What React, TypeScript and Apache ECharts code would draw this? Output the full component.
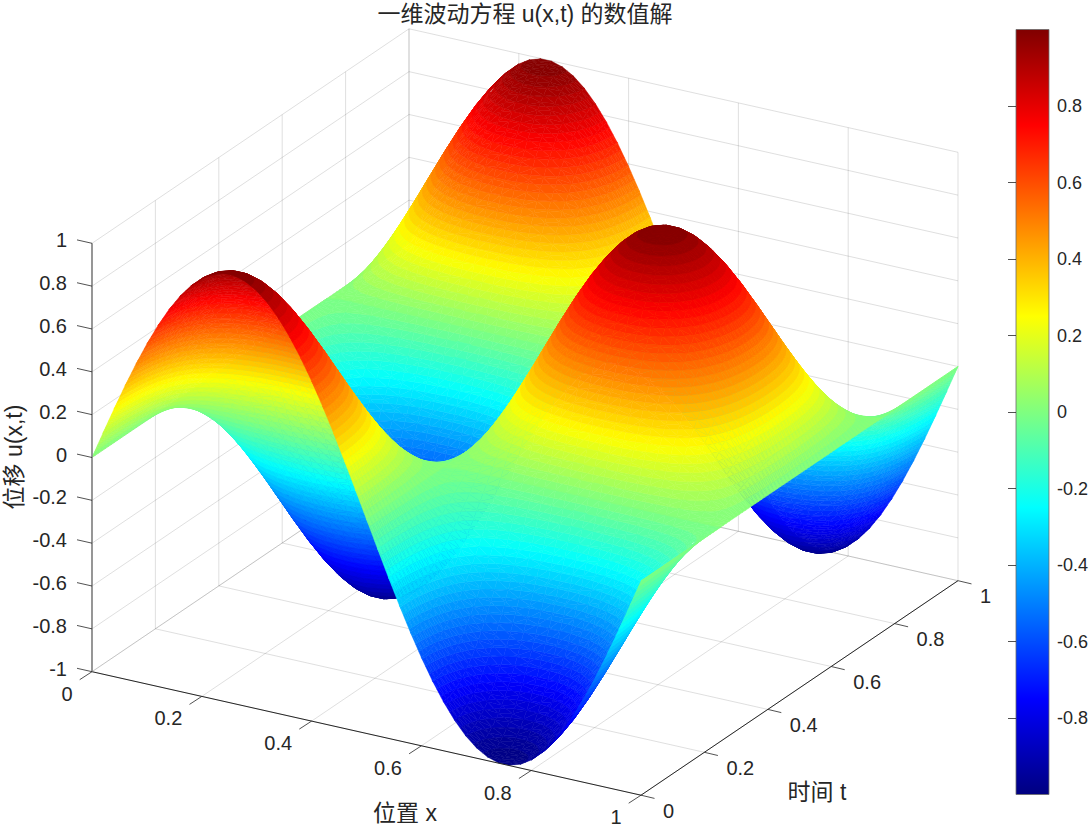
import React, { useEffect, useRef } from "react";
import * as echarts from "echarts";

// Values. The surface table is built from these two lists:
// spatial profile along x (t = 0 edge) and amplitude along t (x = 0.25 ridge).
const xProfile = [
  0, 0.1253, 0.2487, 0.3681, 0.4818, 0.5878, 0.6845, 0.7705, 0.8443, 0.9048, 0.9511, 0.9823, 0.998,
  0.998, 0.9823, 0.9511, 0.9048, 0.8443, 0.7705, 0.6845, 0.5878, 0.4818, 0.3681, 0.2487, 0.1253, 0,
  -0.1253, -0.2487, -0.3681, -0.4818, -0.5878, -0.6845, -0.7705, -0.8443, -0.9048, -0.9511, -0.9823, -0.998,
  -0.998, -0.9823, -0.9511, -0.9048, -0.8443, -0.7705, -0.6845, -0.5878, -0.4818, -0.3681, -0.2487, -0.1253, 0,
];
const tAmplitude = [
  1, 0.998, 0.9921, 0.9823, 0.9686, 0.9511, 0.9298, 0.9048, 0.8763, 0.8443, 0.809, 0.7705, 0.729, 0.6845,
  0.6374, 0.5878, 0.5358, 0.4818, 0.4258, 0.3681, 0.309, 0.2487, 0.1874, 0.1253, 0.0628, 0,
  -0.0628, -0.1253, -0.1874, -0.2487, -0.309, -0.3681, -0.4258, -0.4818, -0.5358, -0.5878, -0.6374, -0.6845,
  -0.729, -0.7705, -0.809, -0.8443, -0.8763, -0.9048, -0.9298, -0.9511, -0.9686, -0.9823, -0.9921, -0.998,
  -1,
  -0.998, -0.9921, -0.9823, -0.9686, -0.9511, -0.9298, -0.9048, -0.8763, -0.8443, -0.809, -0.7705, -0.729, -0.6845,
  -0.6374, -0.5878, -0.5358, -0.4818, -0.4258, -0.3681, -0.309, -0.2487, -0.1874, -0.1253, -0.0628, 0,
  0.0628, 0.1253, 0.1874, 0.2487, 0.309, 0.3681, 0.4258, 0.4818, 0.5358, 0.5878, 0.6374, 0.6845,
  0.729, 0.7705, 0.809, 0.8443, 0.8763, 0.9048, 0.9298, 0.9511, 0.9686, 0.9823, 0.9921, 0.998, 1,
];
const xTicks = [0, 0.2, 0.4, 0.6, 0.8, 1];
const tTicks = [0, 0.2, 0.4, 0.6, 0.8, 1];
const zTicks = [-1, -0.8, -0.6, -0.4, -0.2, 0, 0.2, 0.4, 0.6, 0.8, 1];

const FONT = "'Liberation Sans','Noto Sans CJK SC',sans-serif";
const INK = "#262626";
const GRID = "rgba(38,38,38,0.15)";
const LEVELS = 64;

// Orthographic view fitted to the box corners of the reference.
const project = (x: number, t: number, z: number): [number, number] => [
  92 + 549 * x + 317 * t,
  671.7 + 123.5 * x - 214.5 * t - (z + 1) * 214.2,
];

const clamp = (v: number) => Math.max(0, Math.min(1, v));
const jet = (k: number) => {
  const v = (k + 0.5) / LEVELS;
  const c = (a: number, b: number) => Math.round(255 * clamp(Math.min(4 * v - a, -4 * v + b)));
  return `rgb(${c(1.5, 4.5)},${c(0.5, 3.5)},${c(-0.5, 2.5)})`;
};
const levelColors = Array.from({ length: LEVELS }, (_, k) => jet(k));

const xAt = (i: number) => i / (xProfile.length - 1);
const tAt = (j: number) => j / (tAmplitude.length - 1);
const uAt = (i: number, j: number) => xProfile[i] * tAmplitude[j];

// Each mesh triangle is cut at the colormap level boundaries, as interpolated shading would do.
type V = [number, number, number];
const clipAbove = (poly: V[], limit: number, keepAbove: boolean): V[] => {
  const out: V[] = [];
  const inside = (v: V) => (keepAbove ? v[2] >= limit : v[2] <= limit);
  for (let n = 0; n < poly.length; n++) {
    const a = poly[n];
    const b = poly[(n + 1) % poly.length];
    const ia = inside(a);
    const ib = inside(b);
    if (ia) out.push(a);
    if (ia !== ib) {
      const f = (limit - a[2]) / (b[2] - a[2]);
      out.push([a[0] + f * (b[0] - a[0]), a[1] + f * (b[1] - a[1]), limit]);
    }
  }
  return out;
};
type Patch = { points: [number, number][]; color: string };
const patches: Patch[] = [];
const addTriangle = (tri: V[]) => {
  const us = tri.map((v) => v[2]);
  const levelOf = (u: number) => Math.max(0, Math.min(LEVELS - 1, Math.floor(((u + 1) / 2) * LEVELS)));
  const lo = levelOf(Math.min(...us));
  const hi = levelOf(Math.max(...us));
  for (let k = lo; k <= hi; k++) {
    let poly = tri;
    if (k > lo) poly = clipAbove(poly, -1 + (2 * k) / LEVELS, true);
    if (k < hi) poly = clipAbove(poly, -1 + (2 * (k + 1)) / LEVELS, false);
    if (poly.length >= 3) {
      patches.push({ points: poly.map((v) => project(v[0], v[1], v[2])), color: levelColors[k] });
    }
  }
};
// far faces first: t from 1 down to 0, x from 0 up to 1
for (let j = tAmplitude.length - 2; j >= 0; j--) {
  for (let i = 0; i < xProfile.length - 1; i++) {
    const p = (a: number, b: number): V => [xAt(a), tAt(b), uAt(a, b)];
    addTriangle([p(i, j + 1), p(i + 1, j + 1), p(i, j)]);
    addTriangle([p(i + 1, j + 1), p(i + 1, j), p(i, j)]);
  }
}

type Seg = { a: [number, number, number]; b: [number, number, number] };
const gridSegs: Seg[] = [];
for (const z of zTicks) {
  gridSegs.push({ a: [0, 0, z], b: [0, 1, z] });
  gridSegs.push({ a: [0, 1, z], b: [1, 1, z] });
}
for (const x of xTicks) {
  gridSegs.push({ a: [x, 1, -1], b: [x, 1, 1] });
  gridSegs.push({ a: [x, 0, -1], b: [x, 1, -1] });
}
for (const t of tTicks) {
  gridSegs.push({ a: [0, t, -1], b: [0, t, 1] });
  gridSegs.push({ a: [0, t, -1], b: [1, t, -1] });
}

type Label = { text: string; x: number; y: number; align: string; size: number; rot?: number };
const labels: Label[] = [];
zTicks.forEach((z) => {
  const p = project(0, 0, z);
  labels.push({ text: String(z), x: p[0] - 25, y: p[1] - 3, align: "right", size: 20 });
});
xTicks.forEach((x) => {
  const p = project(x, 0, -1);
  labels.push({ text: String(x), x: p[0] - 19.5, y: p[1] + 22, align: "right", size: 20 });
});
tTicks.forEach((t) => {
  const p = project(1, t, -1);
  labels.push({ text: String(t), x: p[0] + 22, y: p[1] + 15.5, align: "left", size: 20 });
});
labels.push({ text: "位置 x", x: 405, y: 813, align: "center", size: 23 });
labels.push({ text: "时间 t", x: 817, y: 792, align: "center", size: 23 });
labels.push({ text: "位移 u(x,t)", x: 14, y: 457, align: "center", size: 23, rot: Math.PI / 2 });

const lineEl = (p: number[], q: number[], stroke: string, lineWidth: number) => ({
  type: "line",
  shape: { x1: p[0], y1: p[1], x2: q[0], y2: q[1] },
  style: { stroke, lineWidth, fill: "none" },
});

export default function App() {
  const ref = useRef<HTMLDivElement>(null);
  useEffect(() => {
    document.body.style.margin = "0";
    document.body.style.background = "#fff";
    const chart = echarts.init(ref.current!, undefined, { renderer: "svg" });
    const jetGradient = new echarts.graphic.LinearGradient(0, 1, 0, 0, [
      { offset: 0, color: "#000080" },
      { offset: 0.125, color: "#0000ff" },
      { offset: 0.375, color: "#00ffff" },
      { offset: 0.625, color: "#ffff00" },
      { offset: 0.875, color: "#ff0000" },
      { offset: 1, color: "#800000" },
    ]);
    chart.setOption({
      animation: false,
      backgroundColor: "#fff",
      title: {
        text: "一维波动方程 u(x,t) 的数值解",
        left: 520,
        top: -3,
        padding: 5,
        textAlign: "center",
        textStyle: { fontFamily: FONT, fontSize: 23, fontWeight: "normal", color: INK },
      },
      grid: { left: 1016, top: 29.5, width: 33, height: 765 },
      xAxis: { type: "value", min: 0, max: 1, show: false },
      yAxis: {
        type: "value",
        position: "right",
        min: -1,
        max: 1,
        interval: 0.2,
        z: 5,
        splitLine: { show: false },
        axisLine: { show: false },
        axisTick: { show: true, inside: true, length: 8, lineStyle: { color: INK, width: 0.8 } },
        axisLabel: {
          show: true,
          showMinLabel: false,
          showMaxLabel: false,
          margin: 8,
          fontFamily: FONT,
          fontSize: 18,
          color: INK,
        },
      },
      series: [
        {
          type: "custom",
          coordinateSystem: "none",
          silent: true,
          z: 1,
          data: gridSegs.map((_, k) => k),
          renderItem: (_: any, api: any) => {
            const s = gridSegs[api.value(0)];
            return lineEl(project(...s.a), project(...s.b), GRID, 1);
          },
        },
        {
          type: "custom",
          coordinateSystem: "none",
          silent: true,
          progressive: 0,
          z: 2,
          data: patches.map((_, k) => k),
          renderItem: (_: any, api: any) => {
            const p = patches[api.value(0)];
            return {
              type: "polygon",
              shape: { points: p.points },
              style: { fill: p.color, stroke: p.color, lineWidth: 0.5 },
            };
          },
        },
        {
          type: "custom",
          coordinateSystem: "none",
          silent: true,
          z: 3,
          data: [0],
          renderItem: () => {
            const children: any[] = [];
            children.push(lineEl(project(0, 0, -1), project(1, 0, -1), INK, 1));
            children.push(lineEl(project(1, 0, -1), project(1, 1, -1), INK, 1));
            children.push(lineEl(project(0, 0, -1), project(0, 0, 1), "#808080", 1.6));
            zTicks.forEach((z) => {
              const p = project(0, 0, z);
              children.push(lineEl(p, [p[0] - 15, p[1] - 3.4], INK, 0.8));
            });
            xTicks.forEach((x) => {
              const p = project(x, 0, -1);
              children.push(lineEl(p, [p[0] - 12.3, p[1] + 8], INK, 0.8));
            });
            tTicks.forEach((t) => {
              const p = project(1, t, -1);
              children.push(lineEl(p, [p[0] + 13.5, p[1] + 3.2], INK, 0.8));
            });
            labels.forEach((l) => {
              children.push({
                type: "text",
                x: l.x,
                y: l.y,
                rotation: l.rot || 0,
                style: {
                  text: l.text,
                  fill: INK,
                  fontSize: l.size,
                  fontFamily: FONT,
                  align: l.align,
                  textAlign: l.align,
                  verticalAlign: "middle",
                  textVerticalAlign: "middle",
                },
              });
            });
            return { type: "group", children };
          },
        },
        {
          type: "custom",
          coordinateSystem: "cartesian2d",
          silent: true,
          z: 2,
          data: [[0, 0]],
          encode: { x: 0, y: 1 },
          clip: false,
          renderItem: (_: any, api: any) => {
            const a = api.coord([0, 1]);
            const b = api.coord([1, -1]);
            return {
              type: "rect",
              shape: { x: a[0], y: a[1], width: b[0] - a[0], height: b[1] - a[1] },
              style: { fill: jetGradient, stroke: "#6a6a6a", lineWidth: 0.8 },
            };
          },
        },
      ],
    });
    return () => chart.dispose();
  }, []);
  return <div ref={ref} style={{ position: "absolute", left: 0, top: 0, width: 1091, height: 828 }} />;
}
